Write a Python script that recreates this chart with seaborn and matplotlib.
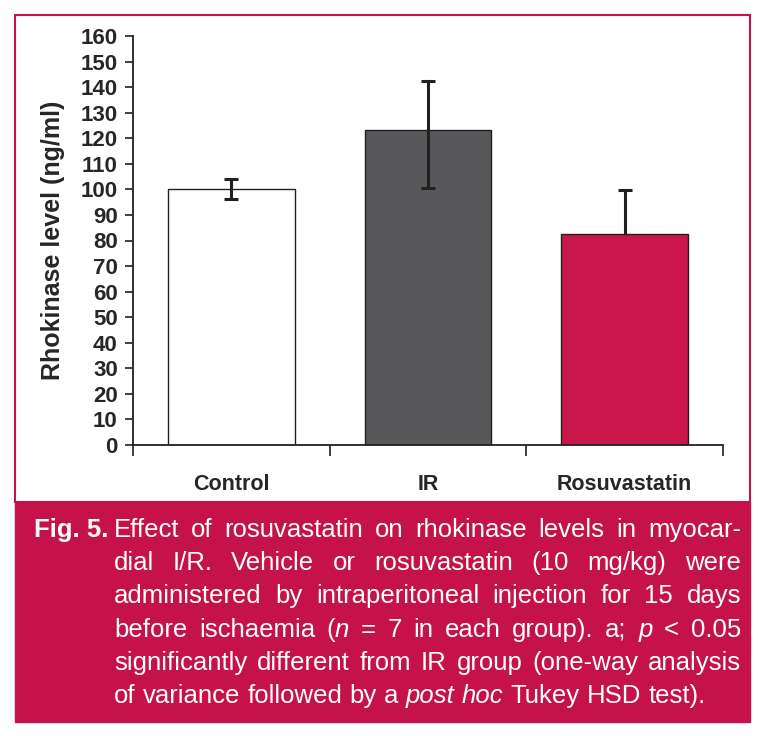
import matplotlib
matplotlib.use("Agg")
import matplotlib.pyplot as plt
import pandas as pd
import seaborn as sns
from matplotlib.patches import Rectangle

# data
groups = ["Control", "IR", "Rosuvastatin"]
means = [100.2, 123.2, 82.7]
err_low = [3.9, 22.5, 17.1]
err_high = [3.9, 19.3, 17.1]
# the rosuvastatin whisker sits behind its bar, so only the upper half shows
err_behind = [False, False, True]
y_ticks = list(range(0, 161, 10))

caption_lines = [
    "Effect of rosuvastatin on rhokinase levels in myocar-",
    "dial I/R. Vehicle or rosuvastatin (10 mg/kg) were",
    "administered by intraperitoneal injection for 15 days",
    "before ischaemia (*n* = 7 in each group). a; *p* < 0.05",
    "significantly different from IR group (one-way analysis",
    "of variance followed by a *post hoc* Tukey HSD test).",
]

CRIMSON = "#c5124a"
BAR_COLORS = ["#ffffff", "#58585a", "#c8154a"]
INK = "#231f20"
W, H = 763, 736

sns.set_theme(style="white")
plt.rcParams["font.family"] = ["Liberation Sans", "DejaVu Sans"]

fig = plt.figure(figsize=(W / 100, H / 100), dpi=100)
fig.patch.set_facecolor("white")

# frame + caption box (kept behind the axes)
fig.patches.append(Rectangle((15 / W, 1 - 502 / H), 735 / W, 487 / H, transform=fig.transFigure,
                             facecolor="white", edgecolor=CRIMSON, lw=1.5, zorder=-5))
fig.patches.append(Rectangle((15 / W, 1 - 722 / H), 735 / W, 220 / H, transform=fig.transFigure,
                             facecolor=CRIMSON, edgecolor=CRIMSON, lw=1.0, zorder=-4))

ax = fig.add_axes([133 / W, 1 - 445 / H, 590 / W, 409 / H])
ax.set_zorder(2)
ax.set_facecolor("none")

df = pd.DataFrame({"group": groups, "level": means})
sns.barplot(data=df, x="group", y="level", hue="group", palette=BAR_COLORS,
            saturation=1, edgecolor=INK, linewidth=1.0, width=0.645, errorbar=None,
            legend=False, ax=ax)

for behind in (False, True):
    idx = [k for k, b in enumerate(err_behind) if b == behind]
    if not idx:
        continue
    ax.errorbar(x=idx, y=[means[k] for k in idx],
                yerr=[[err_low[k] for k in idx], [err_high[k] for k in idx]],
                fmt="none", ecolor=INK, elinewidth=2.2, capsize=5, capthick=2.2,
                zorder=0.5 if behind else 5)

ax.set_xlim(-0.5, 2.5)
ax.set_ylim(0, 160)
ax.set_yticks(y_ticks)
ax.set_yticklabels([str(t) for t in y_ticks], fontsize=16, fontweight="bold")
ax.set_xticks([-0.5, 0.5, 1.5, 2.5])
ax.set_xticklabels([])
ax.set_xticks(range(len(groups)), minor=True)
ax.set_xticklabels(groups, minor=True, fontsize=15.5, fontweight="bold")
ax.tick_params(axis="x", which="major", direction="out", length=8, width=1.2, color=INK, bottom=True)
ax.tick_params(axis="x", which="minor", length=0, pad=21)
ax.tick_params(axis="y", direction="out", length=6, width=1.2, color=INK, left=True, pad=5)
ax.set_xlabel("")
ax.set_ylabel("Rhokinase level (ng/ml)", fontsize=18, fontweight="bold", labelpad=11)
for side in ["top", "right"]:
    ax.spines[side].set_visible(False)
for side in ["left", "bottom"]:
    ax.spines[side].set_color(INK)
    ax.spines[side].set_linewidth(1.3)

# caption, justified word by word
CAP_SIZE = 18.5
renderer = fig.canvas.get_renderer()
fig.text(34 / W, 1 - 537 / H, "Fig. 5.", color="white", fontsize=CAP_SIZE, fontweight="bold",
         va="baseline", ha="left")

x_left, x_right = 114, 741
italic = False
for i, line in enumerate(caption_lines):
    y = 1 - (537 + 33.2 * i) / H
    words = []
    for w in line.split(" "):
        segs = []
        for j, part in enumerate(w.split("*")):
            if j > 0:
                italic = not italic
            if part:
                segs.append((part, italic))
        words.append(segs)
    # measure
    items = []
    for segs in words:
        texts = []
        for part, it in segs:
            t = fig.text(0, y, part, color="white", fontsize=CAP_SIZE,
                         style="italic" if it else "normal", va="baseline", ha="left")
            texts.append((t, t.get_window_extent(renderer).width))
        items.append(texts)
    widths = [sum(wd for _, wd in texts) for texts in items]
    last = i == len(caption_lines) - 1
    gap = CAP_SIZE * 0.28 * 100 / 72 if last else (x_right - x_left - sum(widths)) / (len(items) - 1)
    x = x_left
    for texts, wsum in zip(items, widths):
        xx = x
        for t, wd in texts:
            t.set_x(xx / W)
            xx += wd
        x += wsum + gap

fig.savefig("out.png", dpi=100)
